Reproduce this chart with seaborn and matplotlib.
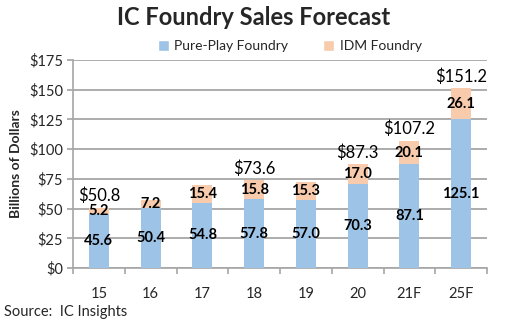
import matplotlib
matplotlib.use("Agg")
import matplotlib.pyplot as plt
import seaborn as sns
import pandas as pd
from matplotlib.patches import Patch

years = ["15", "16", "17", "18", "19", "20", "21F", "25F"]
pure_play = [45.6, 50.4, 54.8, 57.8, 57.0, 70.3, 87.1, 125.1]
idm = [5.2, 7.2, 15.4, 15.8, 15.3, 17.0, 20.1, 26.1]
totals = [50.8, None, None, 73.6, None, 87.3, 107.2, 151.2]
y_ticks = [0, 25, 50, 75, 100, 125, 150, 175]

sns.set_theme(style="white")
plt.rcParams['font.family'] = ['Lato', 'DejaVu Sans']

df = pd.DataFrame({"year": years, "pure": pure_play, "idm": idm})
df["total"] = df["pure"] + df["idm"]

blue = "#9DC3E6"
orange = "#F8CBAD"

fig = plt.figure(figsize=(5.08, 3.26), dpi=100)
ax = fig.add_axes([0.1437, 0.178, 0.815, 0.638])

sns.barplot(data=df, x="year", y="total", color=orange, width=0.39,
            saturation=1, ax=ax, zorder=3, linewidth=0)
sns.barplot(data=df, x="year", y="pure", color=blue, width=0.39,
            saturation=1, ax=ax, zorder=4, linewidth=0)

ax.set_ylim(0, 175)
ax.set_xlim(-0.5, len(years) - 0.5)
ax.set_yticks(y_ticks)
ax.set_yticklabels([f"${v}" for v in y_ticks], fontsize=10.5)
ax.yaxis.grid(True, color="#A6A6A6", linewidth=1.3, zorder=0)
ax.set_axisbelow(True)
ax.set_xlabel("")
ax.set_ylabel("Billions of Dollars", fontsize=10, fontweight="bold", labelpad=5)

for s in ["top", "right"]:
    ax.spines[s].set_visible(False)
for s in ["left", "bottom"]:
    ax.spines[s].set_color("#A6A6A6")
    ax.spines[s].set_linewidth(1.2)

ax.tick_params(axis="y", which="major", left=True, length=4, color="#A6A6A6", pad=3)
ax.set_xticks(range(len(years)))
ax.set_xticklabels(years, fontsize=10.5)
ax.tick_params(axis="x", which="major", bottom=False, pad=8)
ax.set_xticks([i - 0.5 for i in range(len(years) + 1)], minor=True)
ax.tick_params(axis="x", which="minor", bottom=True, length=4, color="#A6A6A6", width=1.2)

for i in range(len(years)):
    p = pure_play[i]
    d = idm[i]
    ax.text(i, p / 2, f"{p:.1f}", ha="center", va="center", fontsize=10.5,
            fontweight="bold", color="black", zorder=5)
    ax.text(i, p + d / 2, f"{d:.1f}", ha="center", va="center", fontsize=10.5,
            fontweight="bold", color="black", zorder=5)
    if totals[i] is not None:
        ax.text(i, p + d + 3, f"${totals[i]:.1f}", ha="center", va="bottom",
                fontsize=12, color="black", zorder=5)

fig.text(0.5, 0.945, "IC Foundry Sales Forecast", ha="center", va="center",
         fontsize=17, fontweight="bold")
handles = [Patch(facecolor=blue, label="Pure-Play Foundry"),
           Patch(facecolor=orange, label="IDM Foundry")]
fig.legend(handles=handles, loc="center", bbox_to_anchor=(0.57, 0.858), ncol=2,
           frameon=False, fontsize=10, handlelength=0.8, handleheight=0.8,
           columnspacing=2.5, handletextpad=0.4)
fig.text(0.008, 0.043, "Source:  IC Insights", ha="left", va="center", fontsize=10.5)

fig.savefig("out.png", dpi=100)
